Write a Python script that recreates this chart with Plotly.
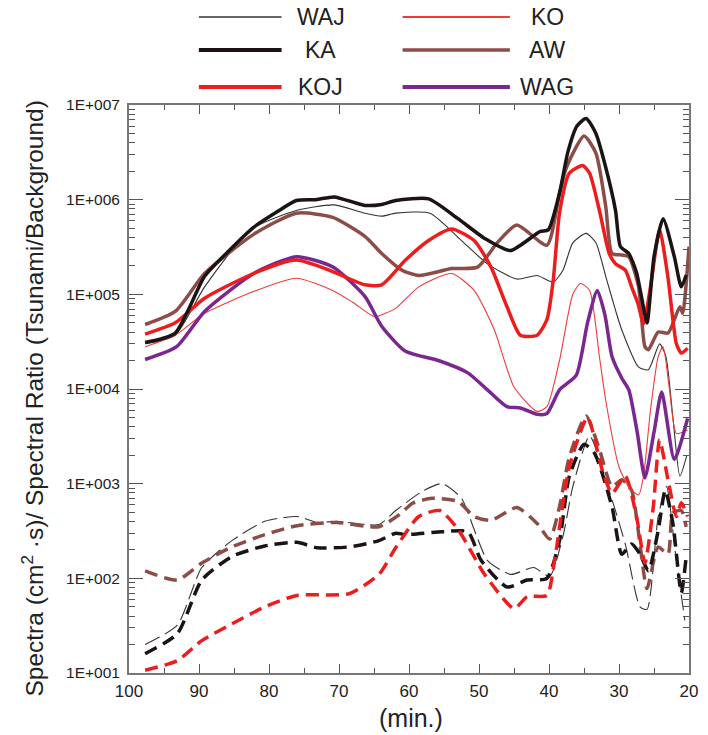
import plotly.graph_objects as go

# ---------------- data (minutes, values) ----------------
ka_x = [97.7, 93.4, 89.2, 85.9, 82.2, 78.9, 76.1, 73.3, 70.7, 66.3, 63.9, 61.9, 57.2, 53.0, 49.2, 45.5, 41.3, 40.1, 38.5, 37.3, 36.0, 34.7, 33.3, 31.9, 30.5, 29.8, 28.6, 27.5, 26.7, 26.0, 25.0, 23.7, 22.1, 21.1, 20.4]
ka_y = [3.1e4, 3.9e4, 1.55e5, 2.8e5, 5.1e5, 7.4e5, 9.8e5, 1.0e6, 1.07e6, 8.7e5, 8.9e5, 9.8e5, 1.02e6, 6.3e5, 3.9e5, 2.9e5, 4.6e5, 4.8e5, 1.17e6, 3.2e6, 6.0e6, 7.2e6, 5.0e6, 2.2e6, 7.7e5, 3.2e5, 2.7e5, 1.7e5, 8.7e4, 5.0e4, 2.5e5, 6.3e5, 2.5e5, 1.2e5, 1.6e5]

waj_x = [97.7, 93.4, 89.2, 82.7, 76.1, 70.7, 66.3, 63.9, 61.9, 57.0, 52.5, 48.8, 44.6, 41.7, 39.4, 38.0, 36.6, 34.7, 33.3, 31.9, 30.5, 29.6, 27.2, 25.8, 24.2, 23.3, 22.3, 21.3, 20.3]
waj_y = [3.0e4, 3.7e4, 1.2e5, 4.8e5, 7.7e5, 8.8e5, 7.2e5, 6.7e5, 7.2e5, 7.2e5, 3.7e5, 2.1e5, 1.45e5, 1.58e5, 1.35e5, 1.8e5, 3.5e5, 4.4e5, 3.5e5, 1.55e5, 6.8e4, 4.2e4, 1.7e4, 1.6e4, 3.0e4, 2.2e4, 5.0e3, 1.2e3, 2.0e3]

ko_x = [97.7, 93.4, 89.2, 82.2, 76.1, 70.9, 68.1, 64.9, 63.4, 61.9, 58.6, 53.9, 50.7, 47.8, 45.0, 41.7, 40.3, 38.5, 36.6, 35.5, 34.2, 32.8, 31.9, 30.0, 28.5, 27.2, 26.5, 25.5, 24.4, 23.7, 22.8, 21.8, 20.2]
ko_y = [2.8e4, 3.7e4, 6.3e4, 1.07e5, 1.48e5, 1.1e5, 8.3e4, 5.8e4, 6.3e4, 7.1e4, 1.2e5, 1.66e5, 1.1e5, 4.2e4, 1.05e4, 5.8e3, 6.5e3, 2.0e4, 1.0e5, 1.3e5, 1.1e5, 2.2e4, 7.6e3, 1.5e3, 9.0e2, 7.6e2, 1.2e3, 6.0e3, 2.2e4, 2.8e4, 1.0e4, 3.4e3, 3.7e3]

koj_x = [97.7, 93.4, 89.2, 82.2, 76.1, 70.9, 66.3, 63.9, 60.5, 57.2, 53.9, 50.7, 48.3, 46.0, 44.1, 41.7, 40.3, 39.4, 38.5, 37.1, 35.2, 34.2, 32.8, 31.4, 30.5, 29.1, 28.2, 27.3, 26.5, 25.5, 24.2, 23.0, 21.8, 21.1, 20.2]
koj_y = [3.8e4, 5.0e4, 9.1e4, 1.66e5, 2.3e5, 1.74e5, 1.26e5, 1.26e5, 2.3e5, 3.7e5, 4.9e5, 3.7e5, 1.95e5, 7.4e4, 3.7e4, 3.7e4, 5.4e4, 1.4e5, 7.2e5, 1.9e6, 2.3e6, 1.9e6, 7.7e5, 2.7e5, 2.1e5, 1.8e5, 1.2e5, 8.0e4, 4.9e4, 1.2e5, 4.8e5, 1.5e5, 3.0e4, 2.4e4, 2.7e4]

aw_x = [97.7, 93.4, 89.2, 82.2, 76.1, 70.9, 66.3, 63.9, 61.0, 58.6, 53.9, 50.2, 47.4, 44.6, 40.3, 38.5, 37.5, 35.0, 33.3, 31.9, 31.0, 29.6, 28.6, 27.2, 26.3, 25.8, 24.4, 23.0, 21.3, 20.9, 20.0]
aw_y = [4.8e4, 6.6e4, 1.66e5, 4.3e5, 7.2e5, 6.5e5, 4.1e5, 2.7e5, 1.8e5, 1.58e5, 1.87e5, 1.94e5, 3.5e5, 5.4e5, 3.3e5, 1.17e6, 2.2e6, 4.7e6, 3.1e6, 8.5e5, 2.7e5, 2.6e5, 2.5e5, 1.2e5, 2.8e4, 2.6e4, 4.0e4, 3.9e4, 7.4e4, 6.3e4, 3.2e5]

wag_x = [97.7, 93.2, 89.2, 82.2, 76.1, 70.9, 66.3, 63.9, 60.5, 55.8, 51.6, 48.8, 46.0, 44.1, 41.7, 40.3, 38.5, 36.1, 34.5, 33.1, 32.0, 31.0, 29.6, 28.6, 27.4, 26.3, 25.0, 23.9, 22.1, 20.2]
wag_y = [2.05e4, 2.8e4, 6.6e4, 1.66e5, 2.5e5, 1.95e5, 9.5e4, 4.6e4, 2.5e4, 2.0e4, 1.48e4, 9.8e3, 6.5e3, 6.3e3, 5.4e3, 5.5e3, 9.8e3, 1.4e4, 5.0e4, 1.1e5, 6.0e4, 2.2e4, 1.3e4, 9.8e3, 3.5e3, 1.15e3, 3.5e3, 9.3e3, 1.8e3, 4.9e3]

# spectra (dashed)
wajs_x = [97.7, 93.1, 89.6, 85.3, 80.6, 76.0, 73.1, 70.3, 64.3, 61.9, 58.1, 55.3, 52.5, 50.7, 48.8, 45.5, 42.2, 39.9, 38.0, 36.6, 34.2, 31.9, 29.1, 27.0, 26.0, 24.4, 23.2, 22.0, 20.6]
wajs_y = [2.0e1, 3.2e1, 1.3e2, 2.5e2, 4.0e2, 4.5e2, 3.9e2, 4.0e2, 3.7e2, 5.2e2, 8.3e2, 1.0e3, 7.0e2, 3.3e2, 1.55e2, 1.1e2, 1.3e2, 1.05e2, 2.8e2, 9.3e2, 3.2e3, 1.1e3, 2.3e2, 5.0e1, 4.7e1, 4.5e2, 9.3e2, 2.0e2, 3.6e1]

kas_x = [97.7, 93.1, 89.6, 85.3, 80.6, 76.0, 73.1, 68.5, 64.3, 61.9, 60.5, 55.3, 51.6, 49.7, 46.0, 43.1, 40.3, 38.5, 37.1, 35.0, 33.5, 31.0, 29.6, 28.2, 27.0, 25.8, 24.4, 23.4, 22.3, 21.1, 20.4]
kas_y = [1.6e1, 2.6e1, 9.6e1, 1.7e2, 2.2e2, 2.4e2, 2.1e2, 2.15e2, 2.5e2, 3.0e2, 2.9e2, 3.1e2, 3.1e2, 1.55e2, 8.1e1, 9.6e1, 1.0e2, 2.5e2, 1.2e3, 2.6e3, 2.1e3, 5.7e2, 1.8e2, 2.3e2, 1.8e2, 1.2e2, 3.2e2, 8.5e2, 3.8e2, 7.0e1, 1.7e2]

kojs_x = [97.7, 93.1, 89.6, 85.3, 80.6, 76.0, 68.5, 64.3, 61.9, 58.6, 55.6, 53.0, 49.2, 45.0, 43.1, 40.3, 39.2, 37.1, 34.5, 32.4, 31.0, 29.1, 27.5, 26.3, 25.1, 24.2, 23.0, 21.8, 21.1, 20.2]
kojs_y = [1.07e1, 1.35e1, 2.2e1, 3.3e1, 5.0e1, 6.6e1, 6.9e1, 1.1e2, 2.1e2, 4.5e2, 5.2e2, 3.3e2, 1.1e2, 4.8e1, 6.4e1, 6.6e1, 1.55e2, 1.5e3, 5.0e3, 1.4e3, 7.9e2, 1.2e3, 4.5e2, 1.45e2, 5.7e2, 2.9e3, 1.1e3, 4.5e2, 6.3e2, 4.5e2]

aws_x = [97.7, 93.1, 89.6, 85.3, 80.6, 76.0, 70.3, 64.3, 61.4, 59.5, 56.7, 53.0, 50.7, 48.3, 44.6, 41.7, 39.9, 38.5, 37.1, 34.7, 32.8, 31.0, 29.6, 28.2, 27.2, 26.0, 24.4, 23.0, 22.3, 21.1, 20.4]
aws_y = [1.2e2, 9.6e1, 1.45e2, 2.15e2, 2.9e2, 3.6e2, 3.9e2, 3.5e2, 4.7e2, 6.2e2, 7.0e2, 6.5e2, 4.5e2, 4.1e2, 5.6e2, 3.8e2, 2.6e2, 5.7e2, 1.9e3, 5.2e3, 2.3e3, 9.3e2, 1.1e3, 8.5e2, 3.0e2, 7.8e1, 2.15e2, 1.8e2, 4.9e2, 5.2e2, 3.5e2]

legend_names = ["WAJ", "KA", "KOJ", "KO", "AW", "WAG"]

x_ticks = [100, 90, 80, 70, 60, 50, 40, 30, 20]
y_ticks = [1e1, 1e2, 1e3, 1e4, 1e5, 1e6, 1e7]
y_ticktext = ["1E+001", "1E+002", "1E+003", "1E+004", "1E+005", "1E+006", "1E+007"]

# ---------------- styles ----------------
BLACK = "#1c1414"
RED = "#ee1d1d"
THINRED = "#f03a3a"
BROWN = "#8c4d47"
PURPLE = "#7b2790"
GRAY = "#555555"

fig = go.Figure()

def add(x, y, color, width, dash="solid", opacity=1.0):
    fig.add_trace(go.Scatter(x=x, y=y, mode="lines",
                             line=dict(color=color, width=width, dash=dash,
                                       shape="spline", smoothing=0.6),
                             opacity=opacity, showlegend=False, hoverinfo="skip"))

# spectra (dashed)
add(wajs_x, wajs_y, "#333333", 1.1, "16px,6px")
add(aws_x, aws_y, BROWN, 3.5, "13px,7px")
add(kas_x, kas_y, BLACK, 3.5, "13px,7px")
add(kojs_x, kojs_y, RED, 3.5, "13px,7px")
# spectral ratios (solid)
add(waj_x, waj_y, "#333333", 1.1)
add(ko_x, ko_y, THINRED, 1.1)
add(wag_x, wag_y, PURPLE, 3.5)
add(aw_x, aw_y, BROWN, 3.5)
add(koj_x, koj_y, RED, 3.5)
add(ka_x, ka_y, BLACK, 3.5)

# ---------------- layout ----------------
W, H = 708, 735
L, R, T, B = 129, 10, 105, 62
PW, PH = W - L - R, H - T - B

def px(xp):
    return (xp - L) / PW

def py(yp):
    return (H - B - yp) / PH

minor_y = [m * 10 ** e for e in range(1, 7) for m in range(2, 10)]

fig.update_layout(
    width=W, height=H,
    margin=dict(l=L, r=R, t=T, b=B),
    paper_bgcolor="white", plot_bgcolor="white",
    showlegend=False,
    font=dict(family="Liberation Sans, Arial, sans-serif", color="#222222"),
    xaxis=dict(range=[100, 20], tickmode="array", tickvals=x_ticks,
               ticktext=[str(v) for v in x_ticks],
               ticks="inside", ticklen=9, tickwidth=1.4, tickcolor=GRAY,
               showline=True, linecolor="#777777", linewidth=2, mirror="allticks",
               showgrid=False, zeroline=False, ticklabelstandoff=2,
               tickfont=dict(size=17, family="Liberation Sans, Arial, sans-serif"),
               minor=dict(dtick=5, tick0=0, ticks="inside", ticklen=5,
                          tickwidth=1.2, tickcolor=GRAY, showgrid=False)),
    yaxis=dict(type="log", range=[1, 7], tickmode="array", tickvals=y_ticks,
               ticktext=y_ticktext,
               ticks="inside", ticklen=14, tickwidth=1.4, tickcolor=GRAY,
               showline=True, linecolor="#777777", linewidth=2, mirror="allticks",
               showgrid=False, zeroline=False, ticklabelstandoff=4,
               tickfont=dict(size=15.5, family="Liberation Sans, Arial, sans-serif"),
               minor=dict(tickmode="array", tickvals=minor_y, ticks="inside",
                          ticklen=6, tickwidth=1.2, tickcolor=GRAY, showgrid=False)),
)

# axis titles
fig.add_annotation(text="(min.)", xref="paper", yref="paper", x=px(416), y=py(718),
                   showarrow=False, font=dict(size=25, color="#222222"),
                   xanchor="center", yanchor="middle")
fig.add_annotation(text="Spectra (cm<sup>2</sup> ·s)/ Spectral Ratio (Tsunami/Background)",
                   xref="paper", yref="paper", x=px(30), y=py(399), textangle=-90,
                   showarrow=False, font=dict(size=24.5, color="#222222"),
                   xanchor="center", yanchor="middle")

# legend (manual, two columns)
leg_specs = [
    (legend_names[0], "#333333", 1.6, 0, 17),
    (legend_names[1], BLACK, 4.0, 0, 50),
    (legend_names[2], RED, 4.0, 0, 87),
    (legend_names[3], THINRED, 1.8, 1, 17),
    (legend_names[4], BROWN, 3.6, 1, 50),
    (legend_names[5], PURPLE, 3.8, 1, 87),
]
col_line = [(200, 284), (407, 516)]
col_text = [324, 554]
for name, color, lw, col, yy in leg_specs:
    x0, x1 = col_line[col]
    fig.add_shape(type="line", xref="paper", yref="paper",
                  x0=px(x0), x1=px(x1), y0=py(yy), y1=py(yy),
                  line=dict(color=color, width=lw))
    fig.add_annotation(text=name, xref="paper", yref="paper",
                       x=px(col_text[col]), y=py(yy), showarrow=False,
                       font=dict(size=23, color="#222222"),
                       xanchor="center", yanchor="middle")

fig.write_html("out.html")
